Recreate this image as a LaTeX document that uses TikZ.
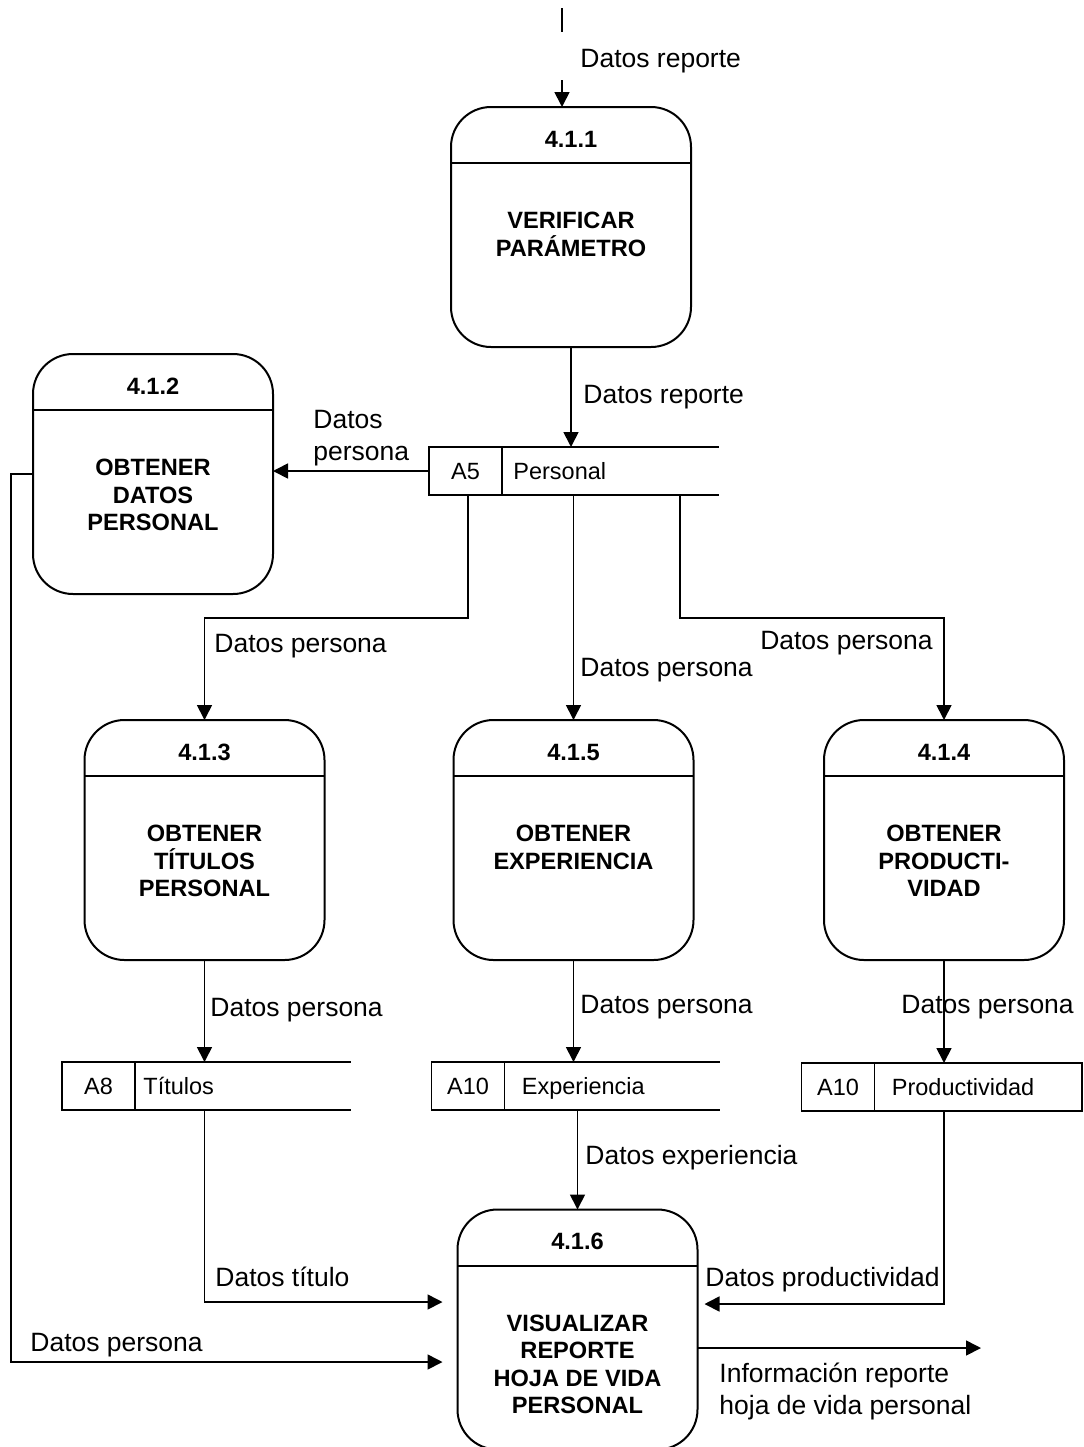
\documentclass[tikz,border=0pt]{standalone}
\usepackage{fontspec}
\setmainfont{Liberation Sans}
\usetikzlibrary{arrows.meta}
\begin{document}
\begin{tikzpicture}[x=0.5pt,y=-0.5pt,
  proc/.style={draw, line width=1pt, rounded corners=20pt, minimum width=120pt, minimum height=120pt, inner sep=0pt, outer sep=0pt},
  pdiv/.style={line width=1pt},
  pnum/.style={font=\bfseries\fontsize{11.8}{13.75}\selectfont, inner sep=0pt},
  ptext/.style={font=\bfseries\fontsize{11.8}{13.75}\selectfont, align=center, inner sep=0pt, anchor=north},
  sid/.style={draw, line width=0.7pt, minimum width=36.5pt, minimum height=24pt, inner sep=0pt, outer sep=0pt, text height=8.5pt, text depth=0pt, font=\fontsize{11.75}{14}\selectfont},
  sname/.style={anchor=west, inner ysep=0pt, text height=8.5pt, text depth=0pt, font=\fontsize{11.75}{14}\selectfont},
  sline/.style={line width=0.7pt},
  conn/.style={line width=0.85pt},
  arr/.style={conn, -{Triangle[length=7.5pt,width=7.5pt]}},
  lab/.style={font=\fontsize{13.25}{15.75}\selectfont, inner sep=0pt},
  slab/.style={lab, text height=9.6pt, text depth=0pt}
]
\useasboundingbox (0,0) rectangle (1083,1447);

% ---------- processes ----------
\node[proc] (p411) at (571,227) {};
\draw[pdiv] ([yshift=-28pt]p411.north west) -- ([yshift=-28pt]p411.north east);
\node[pnum] (n411) at ([yshift=-16pt]p411.north) {4.1.1};
\node[ptext] (t411) at ([yshift=-52.5pt]p411.north) {VERIFICAR\\PARÁMETRO};

\node[proc] (p412) at (153,474) {};
\draw[pdiv] ([yshift=-28pt]p412.north west) -- ([yshift=-28pt]p412.north east);
\node[pnum] (n412) at ([yshift=-16pt]p412.north) {4.1.2};
\node[ptext] (t412) at ([yshift=-52.5pt]p412.north) {OBTENER\\DATOS\\PERSONAL};

\node[proc] (p413) at (204.5,840) {};
\draw[pdiv] ([yshift=-28pt]p413.north west) -- ([yshift=-28pt]p413.north east);
\node[pnum] (n413) at ([yshift=-16pt]p413.north) {4.1.3};
\node[ptext] (t413) at ([yshift=-52.5pt]p413.north) {OBTENER\\TÍTULOS\\PERSONAL};

\node[proc] (p415) at (573.5,840) {};
\draw[pdiv] ([yshift=-28pt]p415.north west) -- ([yshift=-28pt]p415.north east);
\node[pnum] (n415) at ([yshift=-16pt]p415.north) {4.1.5};
\node[ptext] (t415) at ([yshift=-52.5pt]p415.north) {OBTENER\\EXPERIENCIA};

\node[proc] (p414) at (944,840) {};
\draw[pdiv] ([yshift=-28pt]p414.north west) -- ([yshift=-28pt]p414.north east);
\node[pnum] (n414) at ([yshift=-16pt]p414.north) {4.1.4};
\node[ptext] (t414) at ([yshift=-52.5pt]p414.north) {OBTENER\\PRODUCTI-\\VIDAD};

\node[proc] (p416) at (577.5,1329.5) {};
\draw[pdiv] ([yshift=-28pt]p416.north west) -- ([yshift=-28pt]p416.north east);
\node[pnum] (n416) at ([yshift=-16pt]p416.north) {4.1.6};
\node[ptext] (t416) at ([yshift=-52.5pt]p416.north) {VISUALIZAR\\REPORTE\\HOJA DE VIDA\\PERSONAL};

% ---------- data stores ----------
\node[sid] (s5) at (465.5,471) {A5};
\node[sname, inner xsep=5.5pt] (s5n) at (s5.east) {Personal};
\coordinate (s5r) at (719,471);
\draw[sline] (s5.north east) -- (s5.north east -| s5r);
\draw[sline] (s5.south east) -- (s5.south east -| s5r);

\node[sid] (s8) at (98.5,1086) {A8};
\node[sname, inner xsep=4pt] (s8n) at (s8.east) {Títulos};
\coordinate (s8r) at (351,1086);
\draw[sline] (s8.north east) -- (s8.north east -| s8r);
\draw[sline] (s8.south east) -- (s8.south east -| s8r);

\node[sid] (s10e) at (468,1086) {A10};
\node[sname, inner xsep=8.5pt] (s10en) at (s10e.east) {Experiencia};
\coordinate (s10er) at (720,1086);
\draw[sline] (s10e.north east) -- (s10e.north east -| s10er);
\draw[sline] (s10e.south east) -- (s10e.south east -| s10er);

\node[sid] (s10p) at (838,1087) {A10};
\node[sname, inner xsep=8.5pt] (s10pn) at (s10p.east) {Productividad};
\coordinate (s10pr) at (1082,1087);
\draw[sline] (s10p.north east) -- (s10p.north east -| s10pr) -- (s10p.south east -| s10pr) -- (s10p.south east);

% ---------- flows ----------
\coordinate (t0) at (562,8);
\coordinate (t1) at (562,32);
\coordinate (t2) at (562,80);
\draw[conn] (t0) -- (t1);
\draw[arr] (t2) -- (t2 |- p411.north);
\node[slab, anchor=west] (l1) at (580,58) {Datos reporte};

\draw[arr] (p411.south) -- (p411.south |- s5.north);
\node[slab, anchor=west] (l2) at (583,394) {Datos reporte};

\draw[arr] (s5.west) -- (s5.west -| p412.east);
\node[lab, anchor=north west, align=left] (l3) at (313,410) {Datos\\persona};

\coordinate (dp) at (11,1362);
\draw[arr, shorten >=7.5pt] (p412.west) -| (dp) -- (p416.west |- dp);
\node[slab, anchor=west] (l4) at (30,1342) {Datos persona};

\coordinate (x468) at (468,0);
\coordinate (x680) at (680,0);
\coordinate (ybr) at (0,618);
\draw[arr] (s5.south -| x468) -- (x468 |- ybr) -| (p413.north);
\node[slab, anchor=west] (l5) at (214,643) {Datos persona};
\draw[arr] (p415.north |- s5.south) -- (p415.north);
\node[slab, anchor=west] (l6) at (580,667) {Datos persona};
\draw[arr] (s5.south -| x680) -- (x680 |- ybr) -| (p414.north);
\node[slab, anchor=east] (l7) at (933,640) {Datos persona};

\draw[arr] (p413.south) -- (p413.south |- s8.north);
\node[slab, anchor=west] (l8) at (210,1007) {Datos persona};
\draw[arr] (p415.south) -- (p415.south |- s10e.north);
\node[slab, anchor=west] (l9) at (580,1004) {Datos persona};
\draw[arr] (p414.south) -- (p414.south |- s10p.north);
\node[slab, anchor=west] (l10) at (901,1004) {Datos persona};

\draw[arr] (p416.north |- s10e.south) -- (p416.north);
\node[slab, anchor=west] (l11) at (585,1155) {Datos experiencia};

\coordinate (yt) at (0,1302);
\draw[arr, shorten >=7.5pt] (p413.south |- s8.south) -- (p413.south |- yt) -- (p416.west |- yt);
\node[slab, anchor=west] (l12) at (215,1277) {Datos título};

\coordinate (yp) at (0,1304);
\draw[arr, shorten >=3.5pt] (p414.south |- s10p.south) -- (p414.south |- yp) -- (p416.east |- yp);
\node[slab, anchor=east] (l13) at (940,1277) {Datos productividad};

\coordinate (out) at (981,1348);
\draw[arr] (p416.east |- out) -- (out);
\node[lab, anchor=north west, align=left] (l14) at (719,1363) {Información reporte\\hoja de vida personal};
\end{tikzpicture}
\end{document}
